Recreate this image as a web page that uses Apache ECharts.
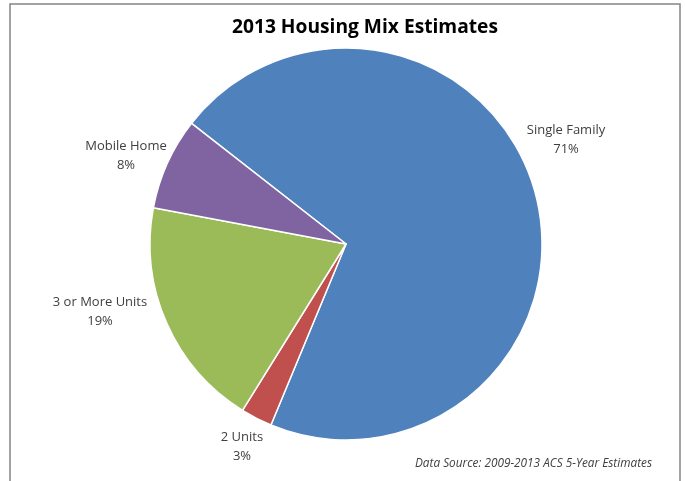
<!DOCTYPE html>
<html><head><meta charset="utf-8">
<script src="https://cdn.jsdelivr.net/npm/echarts@6/dist/echarts.min.js"></script>
<style>html,body{margin:0;padding:0;background:#fff}#c{width:685px;height:481px}</style>
</head><body><div id="c"></div>
<script>
var categories = ['Single Family', '2 Units', '3 or More Units', 'Mobile Home'];
var shares = [70.7, 2.6, 19.1, 7.6];
var percentLabels = ['71%', '3%', '19%', '8%'];
var colors = ['#4F81BD', '#C0504D', '#9BBB59', '#8064A2'];
var labelAnchors = [[566, 140], [242, 447], [100, 312], [126, 156]];

var chart = echarts.init(document.getElementById('c'), null, {renderer: 'canvas'});
var FONT = '"Open Sans", "Liberation Sans", sans-serif';
chart.setOption({
  animation: false,
  backgroundColor: '#fff',
  title: {
    text: '2013 Housing Mix Estimates',
    left: 360, top: 13, textAlign: 'center',
    textStyle: {fontFamily: FONT, fontSize: 19.2, fontWeight: 'bold', color: '#000'}
  },
  graphic: [
    {type: 'rect', shape: {x: 10, y: 4, width: 670, height: 520},
     style: {fill: 'none', stroke: '#858585', lineWidth: 1.5}, silent: true},
    {type: 'text', x: 652, y: 464,
     style: {text: 'Data Source: 2009-2013 ACS 5-Year Estimates', fill: '#404040',
       font: 'italic 11.8px ' + FONT, textAlign: 'right', textVerticalAlign: 'middle'}}
  ],
  series: [{
    type: 'pie',
    center: [346, 244],
    radius: 196,
    startAngle: 142,
    clockwise: true,
    data: categories.map(function (c, i) {
      return {name: c, value: shares[i], itemStyle: {color: colors[i]}};
    }),
    itemStyle: {borderColor: '#fff', borderWidth: 1.5},
    label: {
      show: true, position: 'outside',
      formatter: function (p) { return p.name + '\n' + percentLabels[p.dataIndex]; },
      fontFamily: FONT, fontSize: 13, color: '#404040', lineHeight: 19, align: 'center'
    },
    labelLine: {show: false},
    labelLayout: function (p) {
      var a = labelAnchors[p.dataIndex];
      return {x: a[0], y: a[1], align: 'center', verticalAlign: 'middle'};
    },
    emphasis: {disabled: true}
  }]
});
</script></body></html>
